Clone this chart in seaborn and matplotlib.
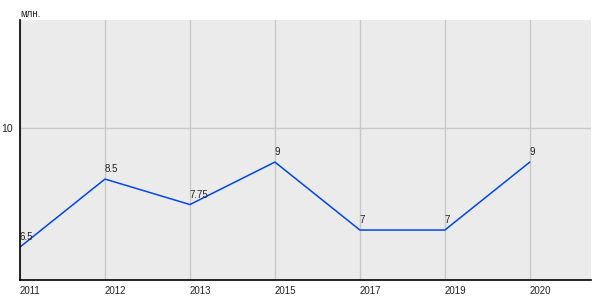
import matplotlib
matplotlib.use("Agg")
import matplotlib.pyplot as plt
import seaborn as sns
import pandas as pd

years = ["2011", "2012", "2013", "2015", "2017", "2019", "2020"]
values = [6.5, 8.5, 7.75, 9, 7, 7, 9]
labels = ["6.5", "8.5", "7.75", "9", "7", "7", "9"]

sns.set_theme(style="white")
plt.rcParams['font.family'] = ['Liberation Sans', 'DejaVu Sans']

df = pd.DataFrame({"pos": range(len(years)), "value": values})

fig = plt.figure(figsize=(6, 3), dpi=100)
ax = fig.add_axes([20/600, 20/300, 571/600, 260/300])
ax.set_facecolor("#ebebeb")

sns.lineplot(data=df, x="pos", y="value", ax=ax, color="#0047e6", linewidth=1.1)

for i, (v, l) in enumerate(zip(values, labels)):
    ax.annotate(l, (i, v), xytext=(0, 3.5), textcoords="offset points",
                fontsize=7, color="#222222", ha="left", va="bottom")

ax.set_xlim(0, 6.72)
ax.set_ylim(5.53, 13.18)
ax.set_xticks(range(len(years)))
ax.set_xticklabels(years, ha="left")
ax.set_yticks([10])
ax.set_yticklabels(["10"])
ax.grid(True, color="#c8c8c8", linewidth=1)
ax.set_axisbelow(True)
ax.tick_params(axis="x", length=0, labelsize=7, pad=4.5, colors="#222222")
ax.tick_params(axis="y", length=4, width=1, labelsize=7.5, pad=1.5, colors="#222222", direction="out")
for s in ["top", "right"]:
    ax.spines[s].set_visible(False)
for s in ["left", "bottom"]:
    ax.spines[s].set_color("black")
    ax.spines[s].set_linewidth(1.2)
ax.set_xlabel("")
ax.set_ylabel("")
fig.text(20/600, 1 - 9/300, "млн.", fontsize=7, color="#222222", ha="left", va="top")

fig.savefig("out.png", dpi=100)
